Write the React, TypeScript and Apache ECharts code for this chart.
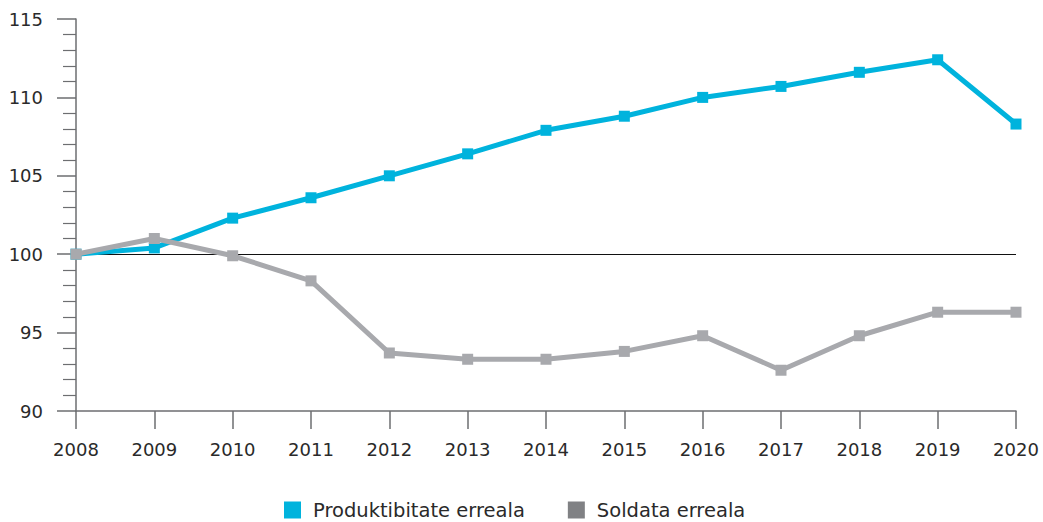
import React, { useEffect, useRef } from "react";
import * as echarts from "echarts";

const years = ["2008", "2009", "2010", "2011", "2012", "2013", "2014", "2015", "2016", "2017", "2018", "2019", "2020"];
const produktibitatea = [100, 100.4, 102.3, 103.6, 105, 106.4, 107.9, 108.8, 110, 110.7, 111.6, 112.4, 108.3];
const soldata = [100, 101, 99.9, 98.3, 93.7, 93.3, 93.3, 93.8, 94.8, 92.6, 94.8, 96.3, 96.3];
const seriesNames = ["Produktibitate erreala", "Soldata erreala"];

const FONT = "DejaVu Sans";
const BLUE = "#00b3dd";
const GRAY = "#a8a9ad";
const AXIS = "#6d6e71";
const TEXT = "#2a2a2a";

export default function App() {
  const ref = useRef<HTMLDivElement>(null);
  useEffect(() => {
    const chart = echarts.init(ref.current!, null, { renderer: "svg" });
    chart.setOption({
      animation: false,
      textStyle: { fontFamily: FONT },
      grid: { left: 76, right: 27, top: 19, bottom: 111, containLabel: false },
      legend: {
        bottom: 2,
        padding: 0,
        left: 284,
        icon: "rect",
        itemWidth: 17,
        itemHeight: 17,
        itemGap: 43,
        textStyle: { fontFamily: FONT, fontSize: 19.5, color: TEXT, padding: [0, 0, 0, 7] },
        data: [
          { name: seriesNames[0], itemStyle: { color: BLUE } },
          { name: seriesNames[1], itemStyle: { color: "#808184" } },
        ],
      },
      xAxis: {
        type: "category",
        data: years,
        boundaryGap: false,
        axisLine: { lineStyle: { color: AXIS, width: 1.5 } },
        axisTick: { show: true, length: 18, lineStyle: { color: AXIS, width: 1.5 } },
        axisLabel: { margin: 29, fontSize: 18, color: TEXT, fontFamily: FONT },
      },
      yAxis: {
        type: "value",
        min: 90,
        max: 115,
        interval: 5,
        axisLine: { show: true, lineStyle: { color: AXIS, width: 1.5 } },
        axisTick: { show: true, length: 19, lineStyle: { color: AXIS, width: 1.5 } },
        minorTick: { show: true, splitNumber: 5, length: 13, lineStyle: { color: AXIS, width: 1.2 } },
        splitLine: { show: false },
        axisLabel: { margin: 33, fontSize: 18, color: TEXT, fontFamily: FONT },
      },
      series: [
        {
          name: seriesNames[0],
          type: "line",
          data: produktibitatea,
          symbol: "rect",
          symbolSize: 11,
          lineStyle: { color: BLUE, width: 5 },
          itemStyle: { color: BLUE },
          z: 3,
          markLine: {
            silent: true,
            symbol: "none",
            label: { show: false },
            lineStyle: { color: "#111", width: 1, type: "solid" },
            data: [{ yAxis: 100 }],
            z: 1,
          },
        },
        {
          name: seriesNames[1],
          type: "line",
          data: soldata,
          symbol: "rect",
          symbolSize: 11,
          lineStyle: { color: GRAY, width: 5 },
          itemStyle: { color: GRAY },
          z: 4,
        },
      ],
    });
    return () => chart.dispose();
  }, []);
  return (
    <div
      ref={ref}
      style={{ position: "absolute", left: 0, top: 0, width: 1043, height: 522, background: "#fff" }}
    />
  );
}
